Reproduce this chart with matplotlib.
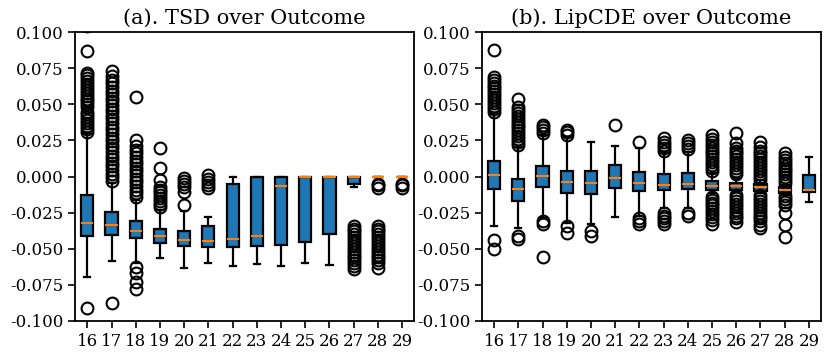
import matplotlib
matplotlib.use('Agg')
import matplotlib.pyplot as plt

plt.rcParams['font.family'] = 'DejaVu Serif'

positions = list(range(16, 30))
tick_labels = [str(p) for p in positions]
titles = ['(a). TSD over Outcome', '(b). LipCDE over Outcome']

# TSD: median, q1, q3, lower whisker, upper whisker, outliers
tsd_med = [-0.032, -0.0336, -0.0377, -0.0412, -0.044, -0.0444, -0.0434, -0.041, -0.0063, 0.0, 0.0, 0.0, 0.0, 0.0]
tsd_q1 = [-0.041, -0.0405, -0.0428, -0.046, -0.0483, -0.0488, -0.049, -0.0479, -0.0475, -0.0451, -0.0396, -0.0055, 0.0, 0.0]
tsd_q3 = [-0.013, -0.0248, -0.0308, -0.0361, -0.0375, -0.034, -0.0054, 0.0, 0.0, 0.0, 0.0, 0.0, 0.0, 0.0]
tsd_lo = [-0.0696, -0.0585, -0.060, -0.0564, -0.0631, -0.0597, -0.0617, -0.0603, -0.0619, -0.0599, -0.0613, -0.0075, 0.0, 0.0]
tsd_hi = [0.030, -0.0047, -0.0163, -0.0232, -0.0239, -0.0283, 0.0, 0.0, 0.0, 0.0, 0.0, 0.0, 0.0, 0.0]
tsd_out = [
    [0.031, 0.033, 0.035, 0.037, 0.039, 0.041, 0.043, 0.045, 0.048, 0.050, 0.052, 0.054, 0.056, 0.058,
     0.060, 0.062, 0.064, 0.066, 0.068, 0.070, 0.072, 0.087, 0.1045, -0.091],
    [-0.003, -0.0005, 0.002, 0.0045, 0.007, 0.0095, 0.012, 0.0145, 0.017, 0.0195, 0.022, 0.0245, 0.027,
     0.0295, 0.032, 0.0345, 0.037, 0.0395, 0.042, 0.0445, 0.047, 0.0495, 0.052, 0.0545, 0.057, 0.0595,
     0.062, 0.0645, 0.067, 0.0695, 0.073, -0.0877],
    [-0.014, -0.0115, -0.009, -0.0065, -0.004, -0.0015, 0.001, 0.0035, 0.006, 0.0085, 0.011, 0.0135,
     0.016, 0.0185, 0.021, 0.025, 0.055, -0.0624, -0.0666, -0.0728, -0.078],
    [-0.021, -0.019, -0.017, -0.015, -0.013, -0.011, -0.009, -0.007, -0.0024, 0.0061, 0.0199],
    [-0.0197, -0.0105, -0.007, -0.005, -0.003, -0.001],
    [-0.008, -0.006, -0.004, -0.002, 0.001],
    [], [], [], [], [],
    [-0.034, -0.036, -0.038, -0.040, -0.042, -0.044, -0.046, -0.048, -0.050, -0.052, -0.054, -0.056,
     -0.058, -0.060, -0.062, -0.064],
    [-0.005, -0.006, -0.008, -0.034, -0.036, -0.038, -0.040, -0.042, -0.044, -0.046, -0.048, -0.050,
     -0.052, -0.054, -0.056, -0.058, -0.060, -0.063],
    [-0.005, -0.006, -0.008],
]

# LipCDE
lip_med = [0.0013, -0.0087, 0.0002, -0.0036, -0.0043, -0.001, -0.0043, -0.0059, -0.0054, -0.0063, -0.0063, -0.007, -0.0096, -0.0096]
lip_q1 = [-0.0087, -0.0167, -0.0075, -0.0112, -0.0119, -0.008, -0.0098, -0.0093, -0.0089, -0.0093, -0.0093, -0.010, -0.0112, -0.011]
lip_q3 = [0.0107, -0.0017, 0.0075, 0.0038, 0.0038, 0.008, 0.0033, 0.0015, 0.0024, -0.0031, -0.0043, -0.005, -0.0073, 0.0008]
lip_lo = [-0.0343, -0.0359, -0.029, -0.0324, -0.033, -0.0283, -0.027, -0.022, -0.022, -0.0116, -0.011, -0.0115, -0.0125, -0.0178]
lip_hi = [0.0437, 0.0207, 0.0287, 0.0271, 0.0241, 0.0211, 0.0197, 0.0172, 0.0172, 0.0022, -0.001, -0.0025, -0.006, 0.0133]
lip_out = [
    [0.045, 0.047, 0.049, 0.051, 0.053, 0.055, 0.057, 0.059, 0.061, 0.063, 0.065, 0.067, 0.069, 0.0875,
     -0.044, -0.050],
    [0.022, 0.024, 0.026, 0.028, 0.030, 0.032, 0.034, 0.036, 0.038, 0.040, 0.042, 0.044, 0.046, 0.048,
     0.0534, -0.0412, -0.043],
    [0.030, 0.032, 0.034, 0.036, -0.031, -0.033, -0.056],
    [0.029, 0.031, 0.032, -0.034, -0.039],
    [-0.0375, -0.0413],
    [0.0354],
    [0.024, -0.029, -0.031, -0.033],
    [0.018, 0.020, 0.022, 0.024, 0.027, -0.025, -0.027, -0.029, -0.031, -0.033],
    [0.019, 0.021, 0.023, 0.025, -0.025, -0.027],
    [0.004, 0.006, 0.008, 0.010, 0.012, 0.014, 0.016, 0.018, 0.020, 0.022, 0.024, 0.026, 0.0287,
     -0.014, -0.016, -0.018, -0.020, -0.022, -0.024, -0.026, -0.028, -0.030, -0.033],
    [0.002, 0.004, 0.006, 0.008, 0.010, 0.012, 0.014, 0.016, 0.018, 0.020, 0.023, 0.0303,
     -0.0128, -0.015, -0.017, -0.019, -0.021, -0.023, -0.025, -0.027, -0.029, -0.0313],
    [-0.0024, 0.0, 0.002, 0.004, 0.006, 0.008, 0.010, 0.012, 0.014, 0.016, 0.018, 0.0206, 0.024,
     -0.0128, -0.015, -0.017, -0.019, -0.021, -0.023, -0.025, -0.027, -0.029, -0.031, -0.0336, -0.0359],
    [-0.0045, -0.0025, -0.0005, 0.0015, 0.0035, 0.0055, 0.0075, 0.0095, 0.0115, 0.0135, 0.016,
     -0.0135, -0.0155, -0.0175, -0.0195, -0.0255, -0.0336, -0.0417],
    [],
]


def make_stats(med, q1, q3, lo, hi, out):
    stats = []
    for i in range(len(med)):
        stats.append({'med': med[i], 'q1': q1[i], 'q3': q3[i],
                      'whislo': lo[i], 'whishi': hi[i], 'fliers': out[i]})
    return stats


fig = plt.figure(figsize=(8.31, 3.57), dpi=100)
ax1 = fig.add_axes([0.0905, 0.101, 0.408, 0.809])
ax2 = fig.add_axes([0.58, 0.101, 0.408, 0.809])

all_stats = [make_stats(tsd_med, tsd_q1, tsd_q3, tsd_lo, tsd_hi, tsd_out),
             make_stats(lip_med, lip_q1, lip_q3, lip_lo, lip_hi, lip_out)]

yticks = [-0.1, -0.075, -0.05, -0.025, 0.0, 0.025, 0.05, 0.075, 0.1]

for ax, stats, title in zip([ax1, ax2], all_stats, titles):
    ax.bxp(stats, positions=positions, widths=0.5, patch_artist=True,
           boxprops=dict(facecolor='#1f77b4', edgecolor='black', linewidth=1.6),
           medianprops=dict(color='#ff7f0e', linewidth=1.5),
           whiskerprops=dict(color='black', linewidth=1.6),
           capprops=dict(color='black', linewidth=1.6),
           flierprops=dict(marker='o', markerfacecolor='none', markeredgecolor='black',
                           markersize=8.5, markeredgewidth=1.5))
    ax.set_xticks(positions)
    ax.set_xticklabels(tick_labels)
    ax.set_xlim(15.5, 29.5)
    ax.set_ylim(-0.1, 0.1)
    ax.set_yticks(yticks)
    ax.set_yticklabels(['%.3f' % v for v in yticks])
    ax.tick_params(labelsize=12, width=1.2, length=5)
    for s in ax.spines.values():
        s.set_linewidth(1.3)
    ax.set_title(title, fontsize=15)

fig.savefig('out.png', dpi=100)
